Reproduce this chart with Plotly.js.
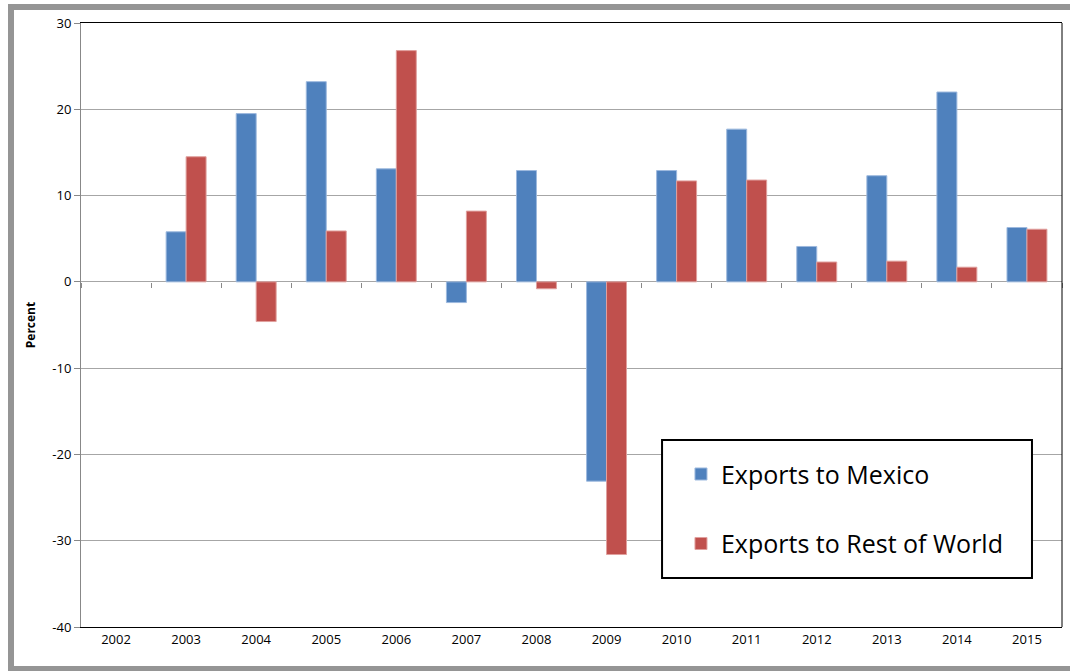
<!DOCTYPE html>
<html>
<head>
<meta charset="utf-8">
<script src="https://cdn.plot.ly/plotly-3.0.1.min.js"></script>
<style>
  html, body { margin: 0; padding: 0; background: #fff; overflow: hidden; }
  #frame { position: absolute; left: 8px; top: 4px; width: 1100px; height: 656px; border: 6px solid #959595; box-sizing: content-box; }
  #chart { position: absolute; left: 0; top: 0; width: 1070px; height: 671px; }
</style>
</head>
<body>
<div id="frame"></div>
<div id="chart"></div>
<script>
const years = ["2002","2003","2004","2005","2006","2007","2008","2009","2010","2011","2012","2013","2014","2015"];
const exportsMexico = [null, 5.8, 19.5, 23.2, 13.1, -2.4, 12.9, -23.1, 12.9, 17.7, 4.1, 12.3, 22.0, 6.3];
const exportsRestOfWorld = [null, 14.5, -4.6, 5.9, 26.8, 8.2, -0.8, -31.6, 11.7, 11.8, 2.3, 2.4, 1.7, 6.1];
const yTicks = [-40, -30, -20, -10, 0, 10, 20, 30];

const font = "Open Sans, Lato, sans-serif";

const traces = [
  {
    type: "bar", x: years, y: exportsMexico, name: "Exports to Mexico",
    legendgroup: "a",
    marker: { color: "#4F81BD", line: { color: "#9DB9DE", width: 1 } }
  },
  {
    type: "bar", x: years, y: exportsRestOfWorld, name: "Exports to Rest of World",
    legendgroup: "b",
    marker: { color: "#C0504D", line: { color: "#E0A09E", width: 1 } }
  },
  {
    type: "bar", x: years, y: years.map(() => null), xaxis: "x2",
    showlegend: false, hoverinfo: "skip"
  }
];

const layout = {
  width: 1070, height: 671,
  margin: { l: 81, r: 8, t: 23, b: 44 },
  paper_bgcolor: "rgba(0,0,0,0)",
  plot_bgcolor: "#fff",
  barmode: "group",
  bargap: 0.43,
  bargroupgap: 0,
  showlegend: true,
  legend: {
    x: 0.6116, y: 0.291, xanchor: "left", yanchor: "top",
    bgcolor: "rgba(0,0,0,0)", borderwidth: 0,
    font: { family: font, size: 25, color: "#000" },
    tracegroupgap: 34,
    traceorder: "grouped",
    itemwidth: 30
  },
  xaxis: {
    type: "category", range: [-0.5, 13.5],
    showline: true, linecolor: "#000", linewidth: 1, mirror: true,
    ticks: "", showgrid: false,
    tickfont: { family: font, size: 13, color: "#000" }
  },
  xaxis2: {
    type: "category", range: [-0.5, 13.5], overlaying: "x",
    anchor: "free", position: 40 / 70, side: "bottom",
    ticks: "outside", tickson: "boundaries", ticklen: 5, tickcolor: "#888",
    showticklabels: false, showline: false, showgrid: false, zeroline: false
  },
  yaxis: {
    range: [-40, 30], tickvals: yTicks, ticktext: yTicks.map(String),
    showgrid: true, gridcolor: "#A6A6A6", gridwidth: 1,
    zeroline: false,
    showline: true, linecolor: "#888", linewidth: 1,
    ticks: "outside", ticklen: 6, tickcolor: "#888",
    tickfont: { family: font, size: 13, color: "#000" },
    title: { text: "<b>Percent</b>", font: { family: font, size: 12, color: "#000" }, standoff: 14 }
  },
  shapes: [
    { type: "line", xref: "paper", yref: "paper", x0: 1, x1: 1, y0: 0, y1: 1, line: { color: "#000", width: 1 } },
    { type: "rect", xref: "paper", yref: "paper", x0: 0.5923, x1: 0.9694, y0: 0.0811, y1: 0.3096,
      fillcolor: "#fff", line: { color: "#000", width: 2 }, layer: "above" }
  ]
};

Plotly.newPlot("chart", traces, layout, { staticPlot: true, displayModeBar: false });
</script>
</body>
</html>
